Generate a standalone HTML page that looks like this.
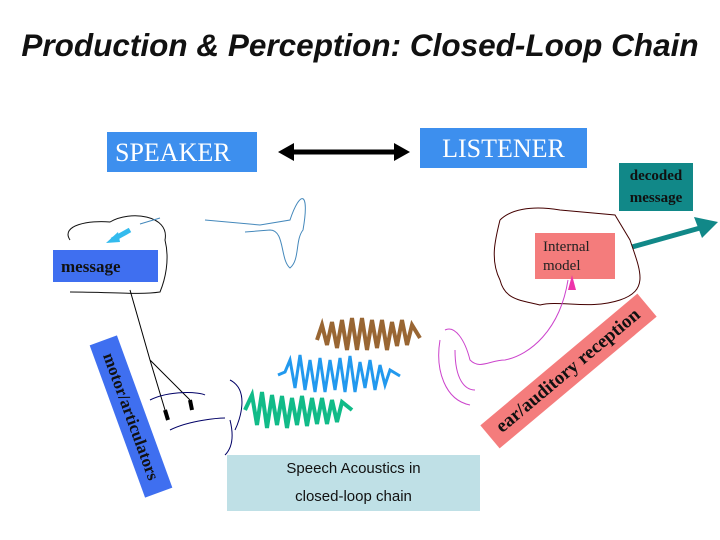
<!DOCTYPE html>
<html><head><meta charset="utf-8"><style>
body{margin:0;width:720px;height:540px;background:#fff;position:relative;overflow:hidden;font-family:"Liberation Serif",serif}
.a{position:absolute}
</style></head><body>
<div class="a" style="left:0;top:27px;width:720px;text-align:center;font:italic bold 31.5px 'Liberation Sans',sans-serif;color:#111;white-space:nowrap">Production &amp; Perception: Closed-Loop Chain</div>
<div class="a" style="left:107px;top:132px;width:150px;height:40px;background:#3d8fee;color:#fff;font-size:26px;line-height:42px;padding-left:8px;box-sizing:border-box">SPEAKER</div>
<div class="a" style="left:420px;top:128px;width:167px;height:40px;background:#3d8fee;color:#fff;font-size:26px;line-height:42px;text-align:center">LISTENER</div>
<div class="a" style="left:619px;top:163px;width:74px;height:48px;background:#118888;color:#111;font-weight:bold;font-size:15px;line-height:22px;text-align:center;padding-top:2px;box-sizing:border-box">decoded<br>message</div>
<div class="a" style="left:53px;top:250px;width:105px;height:32px;background:#3f6ff0;color:#111;font-weight:bold;font-size:17px;line-height:34px;padding-left:8px;box-sizing:border-box">message</div>
<div class="a" style="left:535px;top:233px;width:80px;height:46px;background:#f47c7c;color:#222;font-size:15px;line-height:19px;padding:5px 0 0 8px;box-sizing:border-box">Internal<br>model</div>
<div class="a" style="left:227px;top:455px;width:253px;height:56px;background:#bfe0e6;font:15px 'Liberation Sans',sans-serif;color:#111;text-align:center;line-height:28px">Speech Acoustics in<br>closed-loop chain</div>
<div class="a" style="left:50px;top:402px;width:162px;height:29px;background:#3f6ff0;transform:rotate(70deg);color:#111;font-weight:bold;font-size:17px;line-height:29px;text-align:center">motor/articulators</div>
<div class="a" style="left:466px;top:356px;width:205px;height:30px;background:#f47c7c;transform:rotate(-40deg);color:#111;font-weight:bold;font-size:19px;line-height:30px;text-align:center">ear/auditory reception</div>
<svg class="a" style="left:0;top:0" width="720" height="540">
<line x1="292" y1="152" x2="396" y2="152" stroke="#000" stroke-width="5"/>
<path d="M278,152L294,143L294,161z M410,152L394,143L394,161z" fill="#000"/>
<path d="M632,247L700,228" stroke="#118888" stroke-width="5"/><path d="M718,222L694,217L702,238z" fill="#118888"/>
<path d="M130,230L112,240" stroke="#33bbee" stroke-width="5"/><path d="M106,243L118,232L120,242z" fill="#33bbee"/>
<path d="M70,240C60,225 90,220 110,222C130,210 170,215 165,240C170,260 165,280 160,292C140,295 110,292 70,292" fill="none" stroke="#111" stroke-width="1"/>
<path d="M140,224L160,218M205,220L260,225L290,220C300,190 310,190 303,230C295,240 300,260 290,268C280,260 285,230 270,230L245,232" fill="none" stroke="#4488bb" stroke-width="1"/>
<path d="M130,290L150,360L165,410M150,360L190,400" fill="none" stroke="#000" stroke-width="1"/>
<path d="M165,410L168,420M190,400L192,410" stroke="#000" stroke-width="4"/>
<path d="M150,400C170,390 200,392 205,395M170,430C190,420 220,418 225,418M230,420C235,440 230,450 225,455M230,380C250,390 240,420 235,430" fill="none" stroke="#000066" stroke-width="1"/>
<path d="M500,220C510,210 530,205 560,210L615,215L630,240C640,270 650,290 620,300C590,310 560,300 540,305C520,300 505,300 500,280C490,260 495,240 500,220" fill="none" stroke="#440000" stroke-width="1"/>
<path d="M445,330C455,325 465,340 470,360C480,370 490,360 505,360C530,355 560,330 568,280" fill="none" stroke="#cc44cc" stroke-width="1"/>
<path d="M440,340C435,370 445,400 470,405M455,350C455,380 465,390 475,390" fill="none" stroke="#cc44cc" stroke-width="1"/>
<path d="M568,290L572,275L576,290z" fill="#ee33aa"/>
<polyline points="317,340 322,325 327,345 332,322 337,348 342,320 347,350 352,318 357,350 362,318 367,350 372,320 377,348 382,320 387,350 392,322 397,346 402,320 407,345 412,325 420,338" fill="none" stroke="#996633" stroke-width="4"/>
<polyline points="278,375 285,372 290,360 295,388 300,355 305,390 310,360 315,392 320,358 325,392 330,360 335,390 340,358 345,392 350,356 355,392 360,362 365,388 370,360 375,390 380,365 385,385 390,370 400,376" fill="none" stroke="#2299ee" stroke-width="3"/>
<polyline points="245,410 252,395 257,425 262,392 267,428 272,395 277,425 282,396 287,428 292,398 297,425 302,396 307,426 312,398 317,424 322,398 327,424 332,400 337,422 342,402 352,410" fill="none" stroke="#11bb88" stroke-width="4"/>
</svg>
</body></html>
